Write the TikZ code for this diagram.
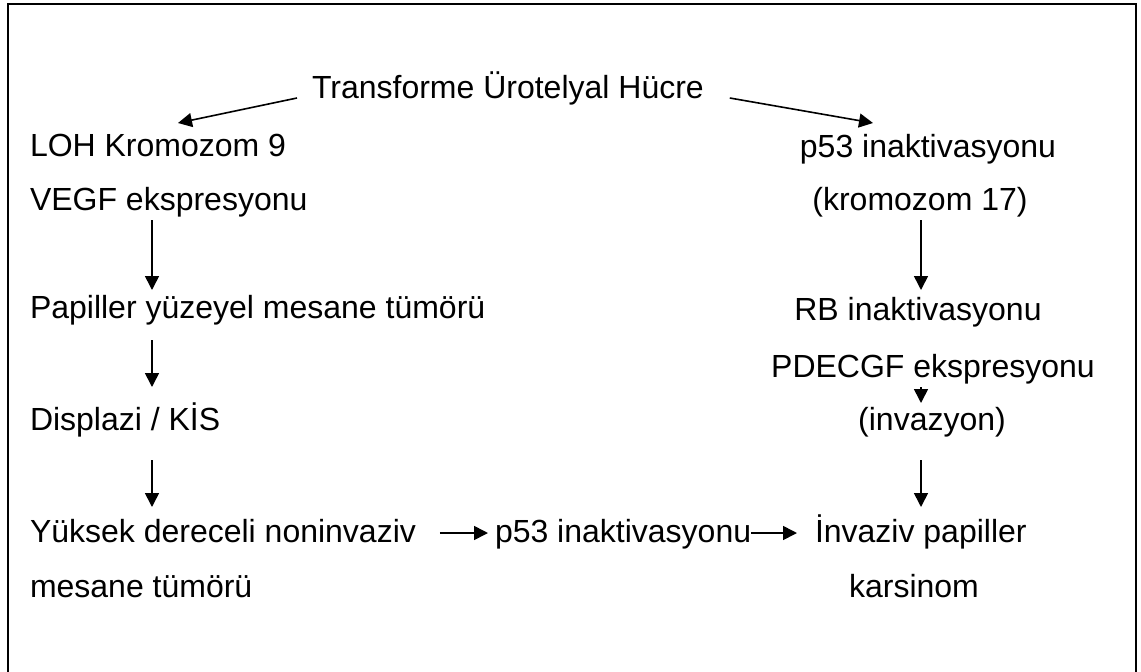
\documentclass[tikz,border=0pt]{standalone}
\usepackage{fontspec}
\setmainfont{Liberation Sans}
\usetikzlibrary{arrows.meta}
\begin{document}
\begin{tikzpicture}[x=1pt,y=-1pt,
  lbl/.style={inner sep=0pt,outer sep=0pt,font=\fontsize{32}{38}\selectfont},
  arr/.style={line width=1.6pt,-{Triangle[length=14pt,width=14pt]}},
  frame/.style={line width=2pt}]
\useasboundingbox (0,0) rectangle (1141,672);
\draw[frame] (8,672) -- (8,4) -- (1136,4) -- (1136,672);
\coordinate (L) at (152,0);
\coordinate (R) at (921,0);
% left column
\node[lbl,anchor=base west] (trans) at (312,98) {Transforme Ürotelyal Hücre};
\node[lbl,anchor=base west] (loh) at (30,156) {LOH Kromozom 9};
\node[lbl,anchor=base west] (vegf) at (30,210) {VEGF ekspresyonu};
\node[lbl,anchor=base west] (pap) at (30,318) {Papiller yüzeyel mesane tümörü};
\node[lbl,anchor=base west] (dis) at (30,430) {Displazi / KİS};
\node[lbl,anchor=base west] (yuk) at (30,542) {Yüksek dereceli noninvaziv};
\node[lbl,anchor=base west] (mes) at (30,597) {mesane tümörü};
% right column
\node[lbl,anchor=base] (p53a) at (928,157) {p53 inaktivasyonu};
\node[lbl,anchor=base] (kro) at (920,210) {(kromozom 17)};
\node[lbl,anchor=base] (rb) at (918,320) {RB inaktivasyonu};
\node[lbl,anchor=base] (pde) at (933,377) {PDECGF ekspresyonu};
\node[lbl,anchor=base] (inv) at (932,430) {(invazyon)};
\node[lbl,anchor=base west] (ip) at (815,542) {İnvaziv papiller};
\node[lbl,anchor=base] (kar) at (914,597) {karsinom};
% middle
\node[lbl,anchor=base west] (p53b) at (495,542) {p53 inaktivasyonu};
% top arrows
\draw[arr] ([xshift=-15pt]trans.base west) -- ([xshift=148pt,yshift=33pt]loh.base west);
\draw[arr] ([xshift=26pt]trans.base east) -- ([xshift=-55pt,yshift=34pt]p53a.base);
% left arrows
\draw[arr] ([yshift=-10pt]vegf.base -| L) -- ([yshift=28pt]pap.base -| L);
\draw[arr] ([yshift=-22pt]pap.base -| L) -- ([yshift=43pt]dis.base -| L);
\draw[arr] ([yshift=-30pt]dis.base -| L) -- ([yshift=35pt]yuk.base -| L);
% right arrows
\draw[arr] ([yshift=-10pt]kro.base -| R) -- ([yshift=30pt]rb.base -| R);
\draw[arr] ([yshift=-10pt]pde.base -| R) -- ([yshift=27pt]inv.base -| R);
\draw[arr] ([yshift=-30pt]inv.base -| R) -- ([yshift=35pt]ip.base -| R);
% bottom horizontal arrows
\draw[arr] ([xshift=24pt,yshift=9pt]yuk.base east) -- ([xshift=-7pt,yshift=9pt]p53b.base west);
\draw[arr] ([yshift=9pt]p53b.base east) -- ([xshift=-18pt,yshift=9pt]ip.base west);
\end{tikzpicture}
\end{document}
